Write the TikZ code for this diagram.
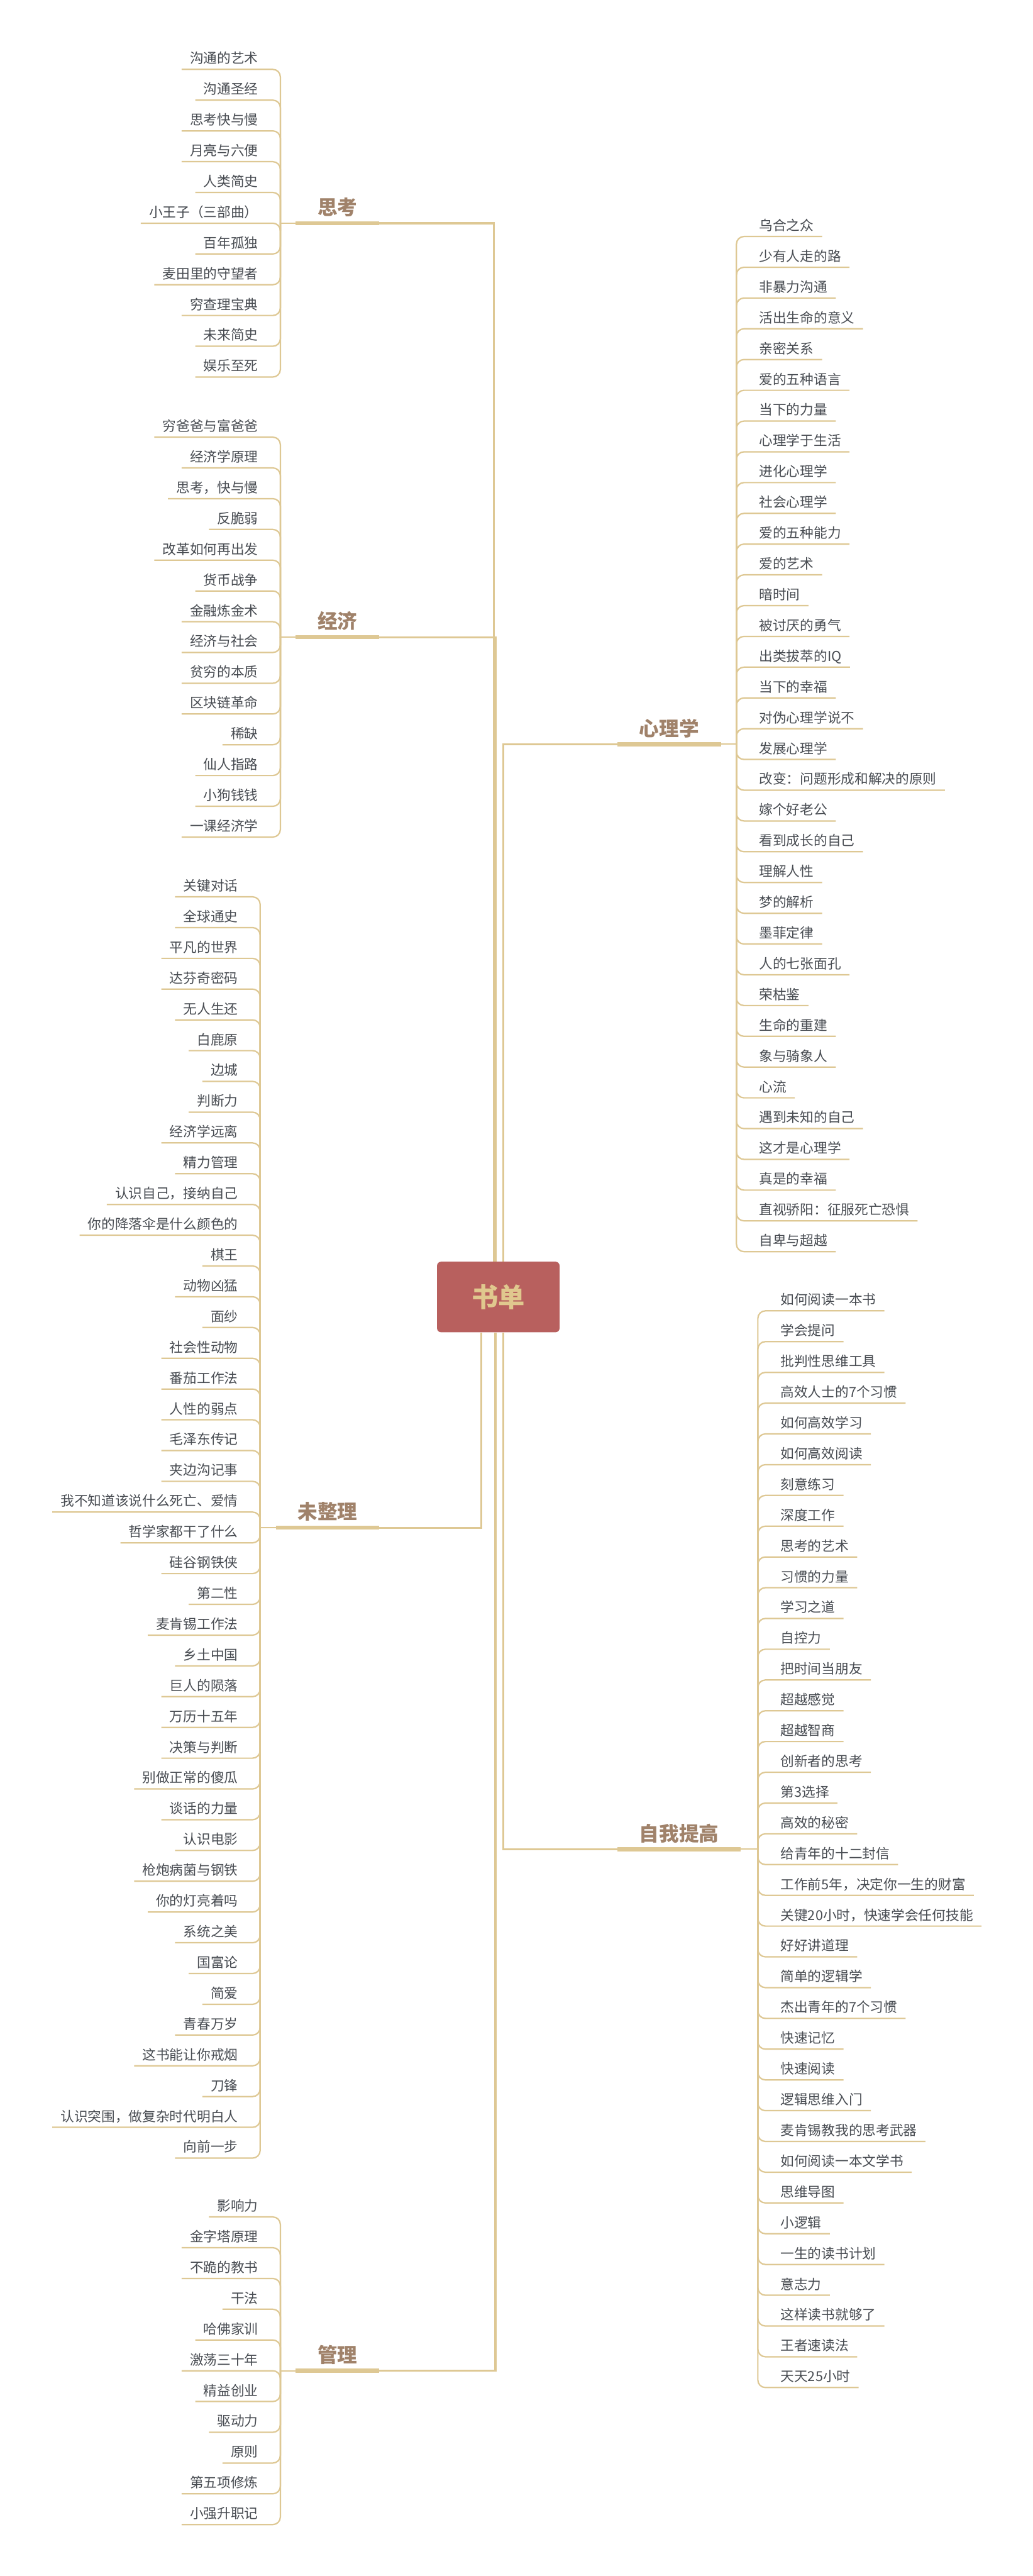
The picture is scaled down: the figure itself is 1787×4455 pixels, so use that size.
\documentclass[tikz,border=0pt]{standalone}
\usepackage{fontspec}
\setmainfont{Noto Sans CJK SC}

\definecolor{twigcol}{RGB}{222,200,148}
\definecolor{topiccol}{RGB}{160,130,106}
\definecolor{leafcol}{RGB}{72,76,82}
\definecolor{rootfill}{RGB}{184,96,94}
\definecolor{roottext}{RGB}{224,200,142}

\begin{document}
\begin{tikzpicture}[
  x=0.5pt, y=-0.5pt,
  root/.style={
    fill=rootfill, text=roottext, rounded corners=3.5pt,
    minimum width=106pt, minimum height=61pt,
    font=\fontsize{23}{28}\selectfont\bfseries,
  },
  topicl/.style={
    anchor=south east, text=topiccol,
    font=\fontsize{17.2}{20}\selectfont\bfseries,
    inner xsep=18.75pt, inner ysep=7pt, text depth=0pt,
  },
  topicr/.style={topicl, anchor=south west},
  leafl/.style={
    anchor=south east, text=leafcol,
    font=\fontsize{11.8}{14}\selectfont,
    inner xsep=7pt, inner ysep=5pt, text depth=0pt,
  },
  leafr/.style={leafl, anchor=south west},
  stem/.style={draw=twigcol, line width=1.75pt},
  bar/.style={draw=twigcol, line width=3.5pt},
  twig/.style={draw=twigcol, line width=1.2pt, rounded corners=6.5pt},
]

\useasboundingbox[fill=white] (0,0) rectangle (1787,4455);

% centre
\node[root] (root) at (862,2243) {书单};

% main topics
\node[topicl] (think) at (656,386) {思考};
\node[topicl] (econ) at (656,1102) {经济};
\node[topicl] (misc) at (656,2642) {未整理};
\node[topicl] (mgmt) at (656,4100) {管理};
\node[topicr] (psy) at (1068,1287) {心理学};
\node[topicr] (self) at (1068,3198) {自我提高};

\foreach \t in {think,econ,misc,mgmt,psy,self}
  \draw[bar] (\t.south west) -- (\t.south east);

\draw[stem] ([xshift=-4pt]root.north) |- (think.south east);
\draw[stem] ([xshift=-2pt]root.north) |- (econ.south east);
\draw[stem] ([xshift=4.5pt]root.north) |- (psy.south west);
\draw[stem] ([xshift=-14.5pt]root.south) |- (misc.south east);
\draw[stem] ([xshift=-2.5pt]root.south) |- (mgmt.south east);
\draw[stem] ([xshift=4.5pt]root.south) |- (self.south west);

% hubs
\coordinate (think-hub) at (485,386);
\coordinate (econ-hub) at (485,1102);
\coordinate (misc-hub) at (450,2642);
\coordinate (mgmt-hub) at (485,4100);
\coordinate (psy-hub) at (1274,1287);
\coordinate (self-hub) at (1311,3198);

\draw[twig] (think-hub) -- (think.south west);
\draw[twig] (econ-hub) -- (econ.south west);
\draw[twig] (misc-hub) -- (misc.south west);
\draw[twig] (mgmt-hub) -- (mgmt.south west);
\draw[twig] (psy.south east) -- (psy-hub);
\draw[twig] (self.south east) -- (self-hub);

% books
\foreach \t [count=\i] in {沟通的艺术, 沟通圣经, 思考快与慢, 月亮与六便, 人类简史,
    小王子（三部曲）, 百年孤独, 麦田里的守望者, 穷查理宝典, 未来简史, 娱乐至死} {
  \node[leafl] (think-\i) at (461,{120+(\i-1)*53.2}) {\t};
  \draw[twig] (think-hub) |- (think-\i.south west);
}

\foreach \t [count=\i] in {穷爸爸与富爸爸, 经济学原理, 思考，快与慢, 反脆弱, 改革如何再出发,
    货币战争, 金融炼金术, 经济与社会, 贫穷的本质, 区块链革命, 稀缺, 仙人指路, 小狗钱钱,
    一课经济学} {
  \node[leafl] (econ-\i) at (461,{756+(\i-1)*53.2}) {\t};
  \draw[twig] (econ-hub) |- (econ-\i.south west);
}

\foreach \t [count=\i] in {关键对话, 全球通史, 平凡的世界, 达芬奇密码, 无人生还, 白鹿原, 边城,
    判断力, 经济学远离, 精力管理, 认识自己，接纳自己, 你的降落伞是什么颜色的, 棋王, 动物凶猛,
    面纱, 社会性动物, 番茄工作法, 人性的弱点, 毛泽东传记, 夹边沟记事, 我不知道该说什么死亡、爱情,
    哲学家都干了什么, 硅谷钢铁侠, 第二性, 麦肯锡工作法, 乡土中国, 巨人的陨落, 万历十五年,
    决策与判断, 别做正常的傻瓜, 谈话的力量, 认识电影, 枪炮病菌与钢铁, 你的灯亮着吗, 系统之美,
    国富论, 简爱, 青春万岁, 这书能让你戒烟, 刀锋, 认识突围，做复杂时代明白人, 向前一步} {
  \node[leafl] (misc-\i) at (426,{1551+(\i-1)*53.2}) {\t};
  \draw[twig] (misc-hub) |- (misc-\i.south west);
}

\foreach \t [count=\i] in {影响力, 金字塔原理, 不跪的教书, 干法, 哈佛家训, 激荡三十年, 精益创业,
    驱动力, 原则, 第五项修炼, 小强升职记} {
  \node[leafl] (mgmt-\i) at (461,{3834+(\i-1)*53.2}) {\t};
  \draw[twig] (mgmt-hub) |- (mgmt-\i.south west);
}

\foreach \t [count=\i] in {乌合之众, 少有人走的路, 非暴力沟通, 活出生命的意义, 亲密关系,
    爱的五种语言, 当下的力量, 心理学于生活, 进化心理学, 社会心理学, 爱的五种能力, 爱的艺术,
    暗时间, 被讨厌的勇气, 出类拔萃的IQ, 当下的幸福, 对伪心理学说不, 发展心理学,
    改变：问题形成和解决的原则, 嫁个好老公, 看到成长的自己, 理解人性, 梦的解析, 墨菲定律,
    人的七张面孔, 荣枯鉴, 生命的重建, 象与骑象人, 心流, 遇到未知的自己, 这才是心理学,
    真是的幸福, 直视骄阳：征服死亡恐惧, 自卑与超越} {
  \node[leafr] (psy-\i) at (1299,{409+(\i-1)*53.2}) {\t};
  \draw[twig] (psy-hub) |- (psy-\i.south east);
}

\foreach \t [count=\i] in {如何阅读一本书, 学会提问, 批判性思维工具, 高效人士的7个习惯,
    如何高效学习, 如何高效阅读, 刻意练习, 深度工作, 思考的艺术, 习惯的力量, 学习之道, 自控力,
    把时间当朋友, 超越感觉, 超越智商, 创新者的思考, 第3选择, 高效的秘密, 给青年的十二封信,
    工作前5年，决定你一生的财富, 关键20小时，快速学会任何技能, 好好讲道理, 简单的逻辑学,
    杰出青年的7个习惯, 快速记忆, 快速阅读, 逻辑思维入门, 麦肯锡教我的思考武器,
    如何阅读一本文学书, 思维导图, 小逻辑, 一生的读书计划, 意志力, 这样读书就够了, 王者速读法,
    天天25小时} {
  \node[leafr] (self-\i) at (1336,{2267+(\i-1)*53.2}) {\t};
  \draw[twig] (self-hub) |- (self-\i.south east);
}

\end{tikzpicture}
\end{document}
